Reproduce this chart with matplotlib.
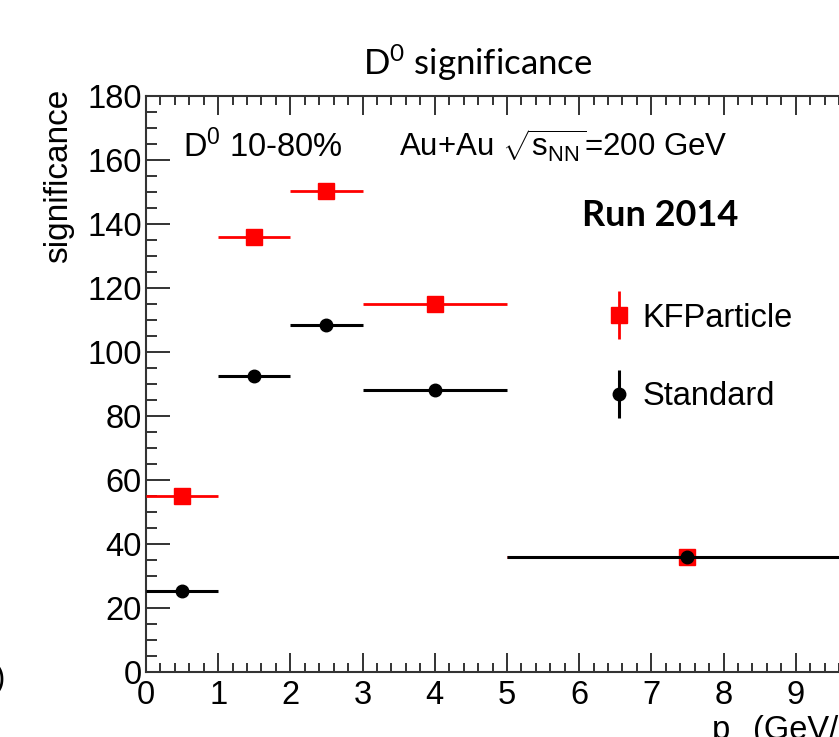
import matplotlib
matplotlib.use("Agg")
import matplotlib.pyplot as plt
from matplotlib.lines import Line2D
from matplotlib.ticker import MultipleLocator
import numpy as np

# pT bins (GeV/c)
bin_lo = np.array([0.0, 1.0, 2.0, 3.0, 5.0])
bin_hi = np.array([1.0, 2.0, 3.0, 5.0, 10.0])
pt = np.array([0.5, 1.5, 2.5, 4.0, 7.5])

# D0 significance, 10-80% centrality
sig_kf = np.array([55.1, 136.0, 150.3, 115.0, 36.0])
sig_std = np.array([25.4, 92.6, 108.5, 88.1, 36.0])
err_kf = np.array([1.0, 1.0, 1.0, 1.0, 1.0])
err_std = np.array([1.0, 1.0, 1.0, 1.0, 1.0])

plt.rcParams["font.family"] = ["Liberation Sans", "DejaVu Sans"]
plt.rcParams["mathtext.fontset"] = "custom"
plt.rcParams["mathtext.rm"] = "Liberation Sans"
plt.rcParams["mathtext.it"] = "Liberation Sans:italic"

axis_col = "#333333"

fig = plt.figure(figsize=(8.39, 7.37), dpi=100)
ax = fig.add_axes([0.174, 0.0882, 0.8605, 0.7815])

xerr_lo = pt - bin_lo
xerr_hi = bin_hi - pt

ax.errorbar(pt, sig_kf, xerr=[xerr_lo, xerr_hi], yerr=err_kf, fmt="s", color="red",
            ms=11.5, elinewidth=2.0, capsize=0, zorder=3)
ax.errorbar(pt, sig_std, xerr=[xerr_lo, xerr_hi], yerr=err_std, fmt="o", color="black",
            ms=9, elinewidth=2.2, capsize=0, zorder=4)

ax.set_xlim(0, 10)
ax.set_ylim(0, 180)

ax.xaxis.set_major_locator(MultipleLocator(1))
ax.xaxis.set_minor_locator(MultipleLocator(0.2))
ax.yaxis.set_major_locator(MultipleLocator(20))
ax.yaxis.set_minor_locator(MultipleLocator(5))

ax.tick_params(axis="both", which="both", direction="in", top=True, right=True,
               color=axis_col, width=1.4, labelsize=23.5)
ax.tick_params(axis="x", which="major", length=13.5, pad=6)
ax.tick_params(axis="x", which="minor", length=6.5)
ax.tick_params(axis="y", which="major", length=17, pad=3)
ax.tick_params(axis="y", which="minor", length=8)
for s in ax.spines.values():
    s.set_color(axis_col)
    s.set_linewidth(1.5)

ax.set_ylabel("significance", fontsize=24, loc="top")
ax.yaxis.set_label_coords(-0.10, 1.012)

# x title, ROOT style: p with a low-hanging T subscript, right-aligned at the axis end
ax.text(0.784, -0.075, "p", transform=ax.transAxes, fontsize=23.5, va="top")
ax.text(0.807, -0.112, "T", transform=ax.transAxes, fontsize=16, va="top")
ax.text(0.997, -0.075, "(GeV/c)", transform=ax.transAxes, fontsize=23.5,
        va="top", ha="right")

ax.text(0.051, 0.894, r"D$^\mathregular{0}$ 10-80%", transform=ax.transAxes, fontsize=23.5)
ax.text(0.350, 0.894, r"Au+Au $\sqrt{\mathregular{s}_\mathregular{NN}}$=200 GeV",
        transform=ax.transAxes, fontsize=22.5)
ax.text(0.604, 0.774, "Run 2014", transform=ax.transAxes, fontsize=26,
        fontweight="bold", family=["Lato", "DejaVu Sans"])

fig.text(0.433, 0.898, r"D$^\mathregular{0}$ significance", fontsize=25,
         family=["Lato", "DejaVu Sans"])
fig.text(-0.006, 0.068, ")", fontsize=22)

h_kf = (Line2D([], [], color="red", marker="|", ms=35, mew=2.0, ls="None"),
        Line2D([], [], color="red", marker="s", ms=11.5, ls="None"))
h_std = (Line2D([], [], color="black", marker="|", ms=35, mew=2.2, ls="None"),
         Line2D([], [], color="black", marker="o", ms=9, ls="None"))
ax.legend([h_kf, h_std], ["KFParticle", "Standard"], loc="upper left",
          bbox_to_anchor=(0.638, 0.641), frameon=False, fontsize=23.5,
          handlelength=0.75, handletextpad=0.35, labelspacing=1.45,
          borderpad=0, borderaxespad=0)

fig.savefig("out.png", dpi=100)
